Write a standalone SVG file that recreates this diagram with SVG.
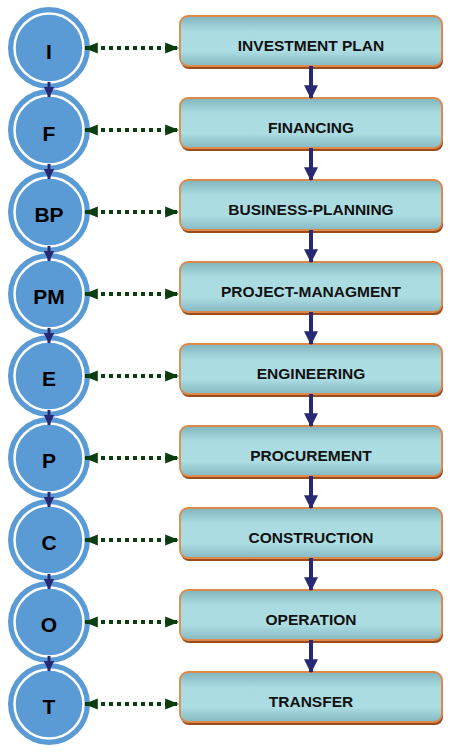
<svg xmlns="http://www.w3.org/2000/svg" width="456" height="753" viewBox="0 0 456 753">
<defs>
<linearGradient id="boxg" x1="0" y1="0" x2="0" y2="1">
<stop offset="0" stop-color="#82b4bd"/>
<stop offset="0.3" stop-color="#a9dbe1"/>
<stop offset="0.7" stop-color="#acdde3"/>
<stop offset="1" stop-color="#86b9c1"/>
</linearGradient>
<marker id="ga" markerUnits="userSpaceOnUse" markerWidth="14" markerHeight="14" viewBox="0 0 12 12" refX="11" refY="6" orient="auto-start-reverse">
<path d="M0,1.2 L12,6 L0,10.8 Z" fill="#0c3d10"/>
</marker>
<marker id="na" markerUnits="userSpaceOnUse" markerWidth="14" markerHeight="14" viewBox="0 0 12 12" refX="11" refY="6" orient="auto">
<path d="M0,0 L12,6 L0,12 Z" fill="#272a72"/>
</marker>
<marker id="sa" markerUnits="userSpaceOnUse" markerWidth="11" markerHeight="11" viewBox="0 0 10 10" refX="9.5" refY="5" orient="auto">
<path d="M0,0 L10,5 L0,10 Z" fill="#272a72"/>
</marker>
</defs>
<style>
.outer{fill:#5b9bd5}
.ring{fill:none;stroke:#ffffff;stroke-width:2.5}
.ct{font-family:"Liberation Sans",Arial,sans-serif;font-weight:bold;font-size:21px;fill:#000;text-anchor:middle}
.sh{fill:#9c4b1c}
.bx{fill:url(#boxg);stroke:#dc8a4c;stroke-width:1.8}
.bt{font-family:"Liberation Sans",Arial,sans-serif;font-weight:bold;font-size:15.5px;fill:#111;text-anchor:middle}
.dot{stroke:#0c3d10;stroke-width:4;stroke-dasharray:4 4;fill:none;marker-start:url(#ga);marker-end:url(#ga)}
.nv{stroke:#272a72;stroke-width:4;fill:none;marker-end:url(#na)}
.sv{stroke:#272a72;stroke-width:3;fill:none;marker-end:url(#sa)}
</style>

<g id="circle-I"><circle class="outer" cx="49" cy="48" r="41"/><circle class="ring" cx="49" cy="48" r="34.5"/><text class="ct" x="49" y="59">I</text></g>
<g id="circle-F"><circle class="outer" cx="49" cy="130" r="41"/><circle class="ring" cx="49" cy="130" r="34.5"/><text class="ct" x="49" y="141">F</text></g>
<g id="circle-BP"><circle class="outer" cx="49" cy="212" r="41"/><circle class="ring" cx="49" cy="212" r="34.5"/><text class="ct" x="49" y="222">BP</text></g>
<g id="circle-PM"><circle class="outer" cx="49" cy="294" r="41"/><circle class="ring" cx="49" cy="294" r="34.5"/><text class="ct" x="49" y="304">PM</text></g>
<g id="circle-E"><circle class="outer" cx="49" cy="376" r="41"/><circle class="ring" cx="49" cy="376" r="34.5"/><text class="ct" x="49" y="386">E</text></g>
<g id="circle-P"><circle class="outer" cx="49" cy="458" r="41"/><circle class="ring" cx="49" cy="458" r="34.5"/><text class="ct" x="49" y="468">P</text></g>
<g id="circle-C"><circle class="outer" cx="49" cy="540" r="41"/><circle class="ring" cx="49" cy="540" r="34.5"/><text class="ct" x="49" y="550">C</text></g>
<g id="circle-O"><circle class="outer" cx="49" cy="622" r="41"/><circle class="ring" cx="49" cy="622" r="34.5"/><text class="ct" x="49" y="632">O</text></g>
<g id="circle-T"><circle class="outer" cx="49" cy="704" r="41"/><circle class="ring" cx="49" cy="704" r="34.5"/><text class="ct" x="49" y="714">T</text></g>

<g id="box-investment"><rect class="sh" x="181" y="19" width="262" height="50" rx="8"/><rect class="bx" x="180" y="16" width="262" height="50" rx="8"/><text class="bt" x="311" y="51">INVESTMENT PLAN</text></g>
<g id="box-financing"><rect class="sh" x="181" y="101" width="262" height="50" rx="8"/><rect class="bx" x="180" y="98" width="262" height="50" rx="8"/><text class="bt" x="311" y="133">FINANCING</text></g>
<g id="box-business"><rect class="sh" x="181" y="183" width="262" height="50" rx="8"/><rect class="bx" x="180" y="180" width="262" height="50" rx="8"/><text class="bt" x="311" y="215">BUSINESS-PLANNING</text></g>
<g id="box-project"><rect class="sh" x="181" y="265" width="262" height="50" rx="8"/><rect class="bx" x="180" y="262" width="262" height="50" rx="8"/><text class="bt" x="311" y="297">PROJECT-MANAGMENT</text></g>
<g id="box-engineering"><rect class="sh" x="181" y="347" width="262" height="50" rx="8"/><rect class="bx" x="180" y="344" width="262" height="50" rx="8"/><text class="bt" x="311" y="379">ENGINEERING</text></g>
<g id="box-procurement"><rect class="sh" x="181" y="429" width="262" height="50" rx="8"/><rect class="bx" x="180" y="426" width="262" height="50" rx="8"/><text class="bt" x="311" y="461">PROCUREMENT</text></g>
<g id="box-construction"><rect class="sh" x="181" y="511" width="262" height="50" rx="8"/><rect class="bx" x="180" y="508" width="262" height="50" rx="8"/><text class="bt" x="311" y="543">CONSTRUCTION</text></g>
<g id="box-operation"><rect class="sh" x="181" y="593" width="262" height="50" rx="8"/><rect class="bx" x="180" y="590" width="262" height="50" rx="8"/><text class="bt" x="311" y="625">OPERATION</text></g>
<g id="box-transfer"><rect class="sh" x="181" y="675" width="262" height="50" rx="8"/><rect class="bx" x="180" y="672" width="262" height="50" rx="8"/><text class="bt" x="311" y="707">TRANSFER</text></g>

<g id="connectors">
<line class="dot" x1="85" y1="48" x2="178" y2="48"/>
<line class="dot" x1="85" y1="130" x2="178" y2="130"/>
<line class="dot" x1="85" y1="212" x2="178" y2="212"/>
<line class="dot" x1="85" y1="294" x2="178" y2="294"/>
<line class="dot" x1="85" y1="376" x2="178" y2="376"/>
<line class="dot" x1="85" y1="458" x2="178" y2="458"/>
<line class="dot" x1="85" y1="540" x2="178" y2="540"/>
<line class="dot" x1="85" y1="622" x2="178" y2="622"/>
<line class="dot" x1="85" y1="704" x2="178" y2="704"/>

<line class="nv" x1="311" y1="66" x2="311" y2="98"/>
<line class="nv" x1="311" y1="148" x2="311" y2="180"/>
<line class="nv" x1="311" y1="230" x2="311" y2="262"/>
<line class="nv" x1="311" y1="312" x2="311" y2="344"/>
<line class="nv" x1="311" y1="394" x2="311" y2="426"/>
<line class="nv" x1="311" y1="476" x2="311" y2="508"/>
<line class="nv" x1="311" y1="558" x2="311" y2="590"/>
<line class="nv" x1="311" y1="640" x2="311" y2="672"/>

<line class="sv" x1="49" y1="82" x2="49" y2="97"/>
<line class="sv" x1="49" y1="164" x2="49" y2="179"/>
<line class="sv" x1="49" y1="246" x2="49" y2="261"/>
<line class="sv" x1="49" y1="328" x2="49" y2="343"/>
<line class="sv" x1="49" y1="410" x2="49" y2="425"/>
<line class="sv" x1="49" y1="492" x2="49" y2="507"/>
<line class="sv" x1="49" y1="574" x2="49" y2="589"/>
<line class="sv" x1="49" y1="656" x2="49" y2="671"/>
</g>
</svg>
